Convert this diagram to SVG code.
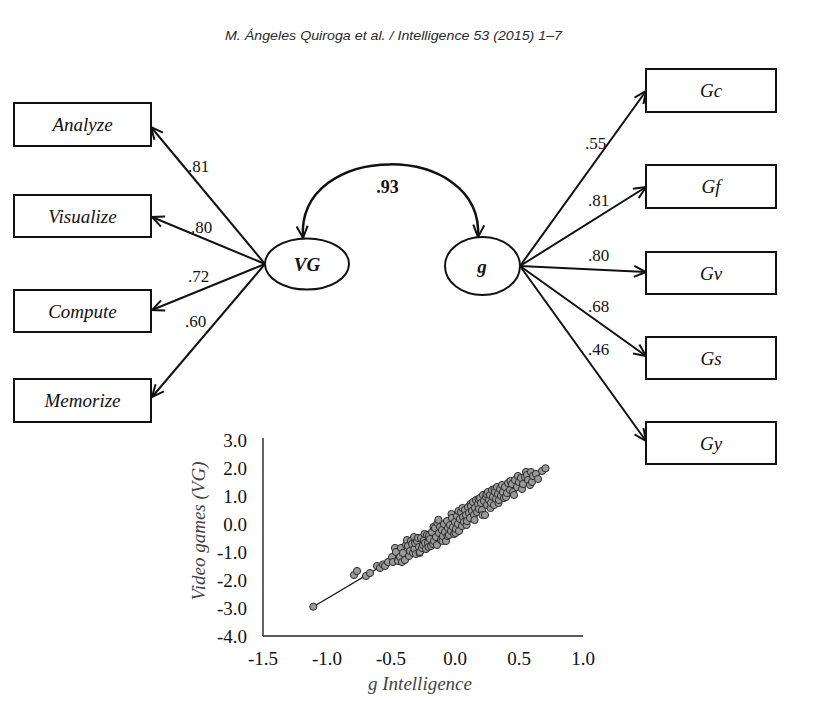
<svg xmlns="http://www.w3.org/2000/svg" width="822" height="714" viewBox="0 0 822 714">
<style>
.box{fill:#fff;stroke:#111;stroke-width:2}
.ell{fill:#fff;stroke:#111;stroke-width:2}
.lbl{font-family:"Liberation Serif","Times New Roman",serif;font-style:italic;font-size:19px;fill:#111;text-anchor:middle}
.lat{font-family:"Liberation Serif","Times New Roman",serif;font-style:italic;font-weight:bold;font-size:19px;fill:#111;text-anchor:middle}
.coef{font-family:"Liberation Serif","Times New Roman",serif;font-size:17px;fill:#111}
.arr{fill:none;stroke:#111;stroke-width:2;marker-end:url(#ah)}
.tick{font-family:"Liberation Serif","Times New Roman",serif;font-size:19px;fill:#111}
.axt{font-family:"Liberation Serif","Times New Roman",serif;font-style:italic;font-size:19px;fill:#444;text-anchor:middle}
.pt{fill:#9a9a9a;stroke:#2a2a2a;stroke-width:1}
</style>
<defs>
<marker id="ah" viewBox="0 0 14 14" refX="13" refY="7" markerWidth="14" markerHeight="14" markerUnits="userSpaceOnUse" orient="auto-start-reverse">
<path d="M1,1.5 L13,7 L1,12.5" fill="none" stroke="#111" stroke-width="2"/>
</marker>
</defs>
<rect width="822" height="714" fill="#fff"/>
<text x="393.5" y="40" font-family="'Liberation Sans',Arial,sans-serif" font-style="italic" font-size="13" fill="#2a2a2a" text-anchor="middle" textLength="337" lengthAdjust="spacingAndGlyphs">M. Ángeles Quiroga et al. / Intelligence 53 (2015) 1–7</text>

<g id="connectors">
<line class="arr" x1="265" y1="264" x2="151" y2="127"/>
<line class="arr" x1="265" y1="264" x2="152" y2="217"/>
<line class="arr" x1="265" y1="264" x2="152" y2="310"/>
<line class="arr" x1="265" y1="264" x2="152" y2="397"/>
<line class="arr" x1="520" y1="266" x2="646" y2="91"/>
<line class="arr" x1="520" y1="266" x2="646" y2="187"/>
<line class="arr" x1="520" y1="266" x2="646" y2="272"/>
<line class="arr" x1="520" y1="266" x2="646" y2="356"/>
<line class="arr" x1="520" y1="266" x2="646" y2="441"/>
<path d="M303,238 C296,140 484,140 478,237" fill="none" stroke="#111" stroke-width="2.5" marker-start="url(#ah)" marker-end="url(#ah)"/>
<text x="387.5" y="193" font-family="'Liberation Serif','Times New Roman',serif" font-weight="bold" font-size="18" fill="#111" text-anchor="middle">.93</text>
<text class="coef" x="188" y="172">.81</text>
<text class="coef" x="191" y="233">.80</text>
<text class="coef" x="188" y="282">.72</text>
<text class="coef" x="185" y="327">.60</text>
<text class="coef" x="585" y="149">.55</text>
<text class="coef" x="588" y="206">.81</text>
<text class="coef" x="588" y="261">.80</text>
<text class="coef" x="588" y="312">.68</text>
<text class="coef" x="588" y="355">.46</text>
</g>

<g id="node-analyze"><rect class="box" x="14" y="103" width="137" height="43"/><text class="lbl" x="82.5" y="131">Analyze</text></g>
<g id="node-visualize"><rect class="box" x="14" y="195" width="137" height="42"/><text class="lbl" x="82.5" y="223">Visualize</text></g>
<g id="node-compute"><rect class="box" x="14" y="290" width="137" height="42"/><text class="lbl" x="82.5" y="318">Compute</text></g>
<g id="node-memorize"><rect class="box" x="14" y="379" width="137" height="43"/><text class="lbl" x="82.5" y="407">Memorize</text></g>

<g id="node-vg"><ellipse class="ell" cx="307" cy="264" rx="42" ry="25.5"/><text class="lat" x="307" y="271">VG</text></g>
<g id="node-g"><ellipse class="ell" cx="482.5" cy="266" rx="37.5" ry="29"/><text class="lat" x="482" y="273">g</text></g>

<g id="node-gc"><rect class="box" x="646" y="69" width="130" height="43"/><text class="lbl" x="711" y="97">Gc</text></g>
<g id="node-gf"><rect class="box" x="646" y="165" width="130" height="43"/><text class="lbl" x="711" y="193">Gf</text></g>
<g id="node-gv"><rect class="box" x="646" y="252" width="130" height="42"/><text class="lbl" x="711" y="280">Gv</text></g>
<g id="node-gs"><rect class="box" x="646" y="337" width="130" height="42"/><text class="lbl" x="711" y="365">Gs</text></g>
<g id="node-gy"><rect class="box" x="646" y="422" width="130" height="42"/><text class="lbl" x="711" y="450">Gy</text></g>

<g id="scatter">
<line x1="263" y1="438" x2="263" y2="636" stroke="#222" stroke-width="1.4"/>
<line x1="263" y1="636" x2="583" y2="636" stroke="#222" stroke-width="1.4"/>
<g class="tick" text-anchor="end">
<text x="247" y="446.5">3.0</text>
<text x="247" y="474.5">2.0</text>
<text x="247" y="502.5">1.0</text>
<text x="247" y="530.5">0.0</text>
<text x="247" y="558.5">-1.0</text>
<text x="247" y="586.5">-2.0</text>
<text x="247" y="614.5">-3.0</text>
<text x="247" y="642.5">-4.0</text>
</g>
<g class="tick" text-anchor="middle">
<text x="263" y="665">-1.5</text>
<text x="327" y="665">-1.0</text>
<text x="391" y="665">-0.5</text>
<text x="455" y="665">0.0</text>
<text x="519" y="665">0.5</text>
<text x="583" y="665">1.0</text>
</g>
<text class="axt" x="420" y="690">g Intelligence</text>
<text class="axt" transform="translate(205,531) rotate(-90)">Video games (VG)</text>
<line x1="313.3" y1="606.7" x2="545" y2="469" stroke="#111" stroke-width="1.3"/>
<g id="points">
<circle class="pt" cx="313.3" cy="606.7" r="3.6"/>
<circle class="pt" cx="354" cy="575" r="3.6"/>
<circle class="pt" cx="357" cy="571" r="3.6"/>
<circle class="pt" cx="366" cy="576" r="3.6"/>
<circle class="pt" cx="370" cy="573" r="3.6"/>
<circle class="pt" cx="377" cy="566" r="3.6"/>
<circle class="pt" cx="380" cy="568" r="3.6"/>
<circle class="pt" cx="383" cy="564.5" r="3.6"/>
<circle class="pt" cx="385" cy="566" r="3.6"/>
<circle class="pt" cx="388" cy="562" r="3.6"/>
<circle class="pt" cx="392" cy="557" r="3.6"/>
<circle class="pt" cx="393" cy="562" r="3.6"/>
<circle class="pt" cx="395" cy="548" r="3.6"/>
<circle class="pt" cx="396" cy="552" r="3.6"/>
<circle class="pt" cx="398" cy="561" r="3.6"/>
<circle class="pt" cx="400" cy="557" r="3.6"/>
<circle class="pt" cx="401" cy="548" r="3.6"/>
<circle class="pt" cx="402" cy="562" r="3.6"/>
<circle class="pt" cx="403" cy="553" r="3.6"/>
<circle class="pt" cx="405" cy="560" r="3.6"/>
<circle class="pt" cx="406" cy="545" r="3.6"/>
<circle class="pt" cx="407" cy="540" r="3.6"/>
<circle class="pt" cx="408" cy="546" r="3.6"/>
<circle class="pt" cx="409" cy="556" r="3.6"/>
<circle class="pt" cx="410" cy="551" r="3.6"/>
<circle class="pt" cx="411" cy="541" r="3.6"/>
<circle class="pt" cx="412" cy="544" r="3.6"/>
<circle class="pt" cx="413" cy="553" r="3.6"/>
<circle class="pt" cx="414" cy="537" r="3.6"/>
<circle class="pt" cx="414.5" cy="549" r="3.6"/>
<circle class="pt" cx="415" cy="543" r="3.6"/>
<circle class="pt" cx="416" cy="554" r="3.6"/>
<circle class="pt" cx="417" cy="541" r="3.6"/>
<circle class="pt" cx="418" cy="538" r="3.6"/>
<circle class="pt" cx="419" cy="547" r="3.6"/>
<circle class="pt" cx="419.5" cy="553" r="3.6"/>
<circle class="pt" cx="420" cy="552" r="3.6"/>
<circle class="pt" cx="421" cy="538" r="3.6"/>
<circle class="pt" cx="422" cy="548" r="3.6"/>
<circle class="pt" cx="423" cy="545" r="3.6"/>
<circle class="pt" cx="424" cy="540" r="3.6"/>
<circle class="pt" cx="424.5" cy="534" r="3.6"/>
<circle class="pt" cx="425" cy="543" r="3.6"/>
<circle class="pt" cx="426" cy="549" r="3.6"/>
<circle class="pt" cx="427" cy="535" r="3.6"/>
<circle class="pt" cx="428" cy="543" r="3.6"/>
<circle class="pt" cx="428.5" cy="547" r="3.6"/>
<circle class="pt" cx="429" cy="536" r="3.6"/>
<circle class="pt" cx="430" cy="539" r="3.6"/>
<circle class="pt" cx="431" cy="546" r="3.6"/>
<circle class="pt" cx="432" cy="532" r="3.6"/>
<circle class="pt" cx="433" cy="544" r="3.6"/>
<circle class="pt" cx="433.5" cy="527" r="3.6"/>
<circle class="pt" cx="434" cy="541" r="3.6"/>
<circle class="pt" cx="435" cy="528" r="3.6"/>
<circle class="pt" cx="436" cy="537" r="3.6"/>
<circle class="pt" cx="437" cy="545" r="3.6"/>
<circle class="pt" cx="437.5" cy="523" r="3.6"/>
<circle class="pt" cx="438.4" cy="519.8" r="3.6"/>
<circle class="pt" cx="439" cy="533" r="3.6"/>
<circle class="pt" cx="440" cy="527" r="3.6"/>
<circle class="pt" cx="441" cy="540" r="3.6"/>
<circle class="pt" cx="442" cy="530" r="3.6"/>
<circle class="pt" cx="442.5" cy="541" r="3.6"/>
<circle class="pt" cx="443" cy="536" r="3.6"/>
<circle class="pt" cx="444" cy="524" r="3.6"/>
<circle class="pt" cx="445" cy="532" r="3.6"/>
<circle class="pt" cx="446" cy="541" r="3.6"/>
<circle class="pt" cx="447" cy="521" r="3.6"/>
<circle class="pt" cx="447.5" cy="536" r="3.6"/>
<circle class="pt" cx="448" cy="528" r="3.6"/>
<circle class="pt" cx="449" cy="535" r="3.6"/>
<circle class="pt" cx="450" cy="525" r="3.6"/>
<circle class="pt" cx="451" cy="531" r="3.6"/>
<circle class="pt" cx="451.5" cy="514" r="3.6"/>
<circle class="pt" cx="452" cy="518" r="3.6"/>
<circle class="pt" cx="453" cy="527" r="3.6"/>
<circle class="pt" cx="454" cy="534" r="3.6"/>
<circle class="pt" cx="455" cy="522" r="3.6"/>
<circle class="pt" cx="455.5" cy="533" r="3.6"/>
<circle class="pt" cx="456" cy="529" r="3.6"/>
<circle class="pt" cx="457" cy="516" r="3.6"/>
<circle class="pt" cx="458" cy="524" r="3.6"/>
<circle class="pt" cx="458.5" cy="511" r="3.6"/>
<circle class="pt" cx="459" cy="531" r="3.6"/>
<circle class="pt" cx="460" cy="519" r="3.6"/>
<circle class="pt" cx="461" cy="512" r="3.6"/>
<circle class="pt" cx="462" cy="526" r="3.6"/>
<circle class="pt" cx="462.5" cy="508" r="3.6"/>
<circle class="pt" cx="463" cy="517" r="3.6"/>
<circle class="pt" cx="464" cy="522" r="3.6"/>
<circle class="pt" cx="465" cy="510" r="3.6"/>
<circle class="pt" cx="466" cy="515" r="3.6"/>
<circle class="pt" cx="466.5" cy="525" r="3.6"/>
<circle class="pt" cx="467" cy="521" r="3.6"/>
<circle class="pt" cx="468" cy="507" r="3.6"/>
<circle class="pt" cx="469" cy="513" r="3.6"/>
<circle class="pt" cx="470" cy="518" r="3.6"/>
<circle class="pt" cx="470.5" cy="504" r="3.6"/>
<circle class="pt" cx="471" cy="506" r="3.6"/>
<circle class="pt" cx="472" cy="511" r="3.6"/>
<circle class="pt" cx="473" cy="502" r="3.6"/>
<circle class="pt" cx="474" cy="515" r="3.6"/>
<circle class="pt" cx="474.5" cy="520" r="3.6"/>
<circle class="pt" cx="475" cy="508" r="3.6"/>
<circle class="pt" cx="476" cy="500" r="3.6"/>
<circle class="pt" cx="477" cy="512" r="3.6"/>
<circle class="pt" cx="478" cy="504" r="3.6"/>
<circle class="pt" cx="478.5" cy="499" r="3.6"/>
<circle class="pt" cx="479" cy="509" r="3.6"/>
<circle class="pt" cx="480" cy="498" r="3.6"/>
<circle class="pt" cx="481" cy="503" r="3.6"/>
<circle class="pt" cx="482" cy="510" r="3.6"/>
<circle class="pt" cx="482.5" cy="515" r="3.6"/>
<circle class="pt" cx="483" cy="495" r="3.6"/>
<circle class="pt" cx="484" cy="501" r="3.6"/>
<circle class="pt" cx="485" cy="515" r="3.6"/>
<circle class="pt" cx="486" cy="497" r="3.6"/>
<circle class="pt" cx="486.5" cy="494" r="3.6"/>
<circle class="pt" cx="487" cy="505" r="3.6"/>
<circle class="pt" cx="488" cy="492" r="3.6"/>
<circle class="pt" cx="489" cy="500" r="3.6"/>
<circle class="pt" cx="490" cy="495" r="3.6"/>
<circle class="pt" cx="490.5" cy="508" r="3.6"/>
<circle class="pt" cx="491" cy="503" r="3.6"/>
<circle class="pt" cx="492" cy="490" r="3.6"/>
<circle class="pt" cx="493" cy="497" r="3.6"/>
<circle class="pt" cx="494" cy="505" r="3.6"/>
<circle class="pt" cx="494.5" cy="489" r="3.6"/>
<circle class="pt" cx="495" cy="492" r="3.6"/>
<circle class="pt" cx="496" cy="499" r="3.6"/>
<circle class="pt" cx="497" cy="487" r="3.6"/>
<circle class="pt" cx="498" cy="494" r="3.6"/>
<circle class="pt" cx="498.5" cy="503" r="3.6"/>
<circle class="pt" cx="499" cy="500" r="3.6"/>
<circle class="pt" cx="500" cy="489" r="3.6"/>
<circle class="pt" cx="501" cy="496" r="3.6"/>
<circle class="pt" cx="502" cy="485" r="3.6"/>
<circle class="pt" cx="503" cy="492" r="3.6"/>
<circle class="pt" cx="504" cy="498" r="3.6"/>
<circle class="pt" cx="505" cy="487" r="3.6"/>
<circle class="pt" cx="506" cy="497" r="3.6"/>
<circle class="pt" cx="507" cy="493" r="3.6"/>
<circle class="pt" cx="508" cy="483" r="3.6"/>
<circle class="pt" cx="510" cy="490" r="3.6"/>
<circle class="pt" cx="510.5" cy="481" r="3.6"/>
<circle class="pt" cx="512" cy="484" r="3.6"/>
<circle class="pt" cx="513" cy="492" r="3.6"/>
<circle class="pt" cx="514" cy="495" r="3.6"/>
<circle class="pt" cx="515" cy="480" r="3.6"/>
<circle class="pt" cx="517" cy="487" r="3.6"/>
<circle class="pt" cx="518" cy="476" r="3.6"/>
<circle class="pt" cx="519" cy="482" r="3.6"/>
<circle class="pt" cx="521" cy="478" r="3.6"/>
<circle class="pt" cx="522" cy="489" r="3.6"/>
<circle class="pt" cx="523" cy="484" r="3.6"/>
<circle class="pt" cx="525" cy="477" r="3.6"/>
<circle class="pt" cx="526" cy="472" r="3.6"/>
<circle class="pt" cx="527" cy="475" r="3.6"/>
<circle class="pt" cx="528" cy="480" r="3.6"/>
<circle class="pt" cx="530" cy="485" r="3.6"/>
<circle class="pt" cx="531" cy="472" r="3.6"/>
<circle class="pt" cx="532" cy="482" r="3.6"/>
<circle class="pt" cx="533" cy="476" r="3.6"/>
<circle class="pt" cx="536" cy="474" r="3.6"/>
<circle class="pt" cx="538" cy="479" r="3.6"/>
<circle class="pt" cx="542" cy="471" r="3.6"/>
<circle class="pt" cx="545.5" cy="468.3" r="3.6"/>
</g>
</g>
</svg>
